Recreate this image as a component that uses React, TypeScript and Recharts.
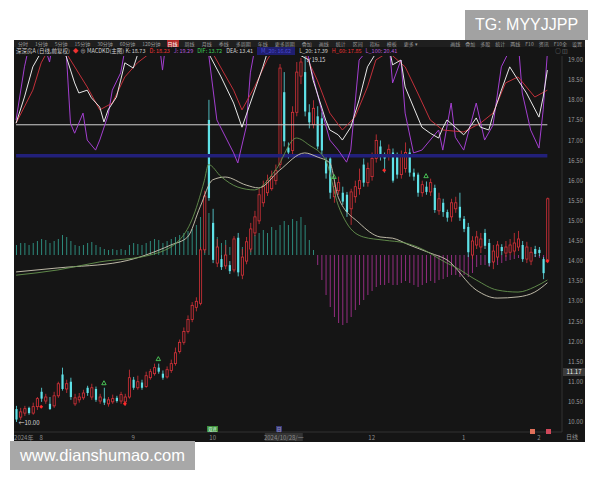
import React from "react";
import {
  ComposedChart,
  Bar,
  Line,
  XAxis,
  YAxis,
  ReferenceLine,
  ReferenceDot,
  Cell,
} from "recharts";

// daily candles [open, high, low, close], late Jul 2024 .. early Feb 2025
const candles: [number, number, number, number][] = [
  [10.32, 10.4, 10.0, 10.06], [10.12, 10.35, 10.05, 10.25], [10.22, 10.4, 10.15, 10.33], [10.35, 10.38, 10.18, 10.22],
  [10.22, 10.48, 10.18, 10.38], [10.38, 10.62, 10.3, 10.58], [10.75, 10.85, 10.5, 10.58], [10.52, 10.7, 10.45, 10.62],
  [10.45, 10.62, 10.3, 10.32], [10.4, 10.75, 10.35, 10.65], [10.65, 11.0, 10.6, 10.95], [11.18, 11.35, 10.78, 10.82],
  [10.82, 11.05, 10.72, 10.95], [11.0, 11.1, 10.55, 10.62], [10.45, 10.7, 10.4, 10.6], [10.55, 10.72, 10.48, 10.62],
  [10.6, 10.8, 10.55, 10.72], [10.85, 10.9, 10.65, 10.72], [10.62, 10.95, 10.55, 10.85], [10.82, 10.88, 10.5, 10.55],
  [10.52, 10.7, 10.45, 10.62], [10.58, 10.85, 10.42, 10.48], [10.45, 10.62, 10.38, 10.55], [10.5, 10.68, 10.45, 10.58],
  [10.6, 10.65, 10.48, 10.52], [10.52, 10.75, 10.45, 10.68], [10.5, 10.7, 10.4, 10.62], [10.62, 11.3, 10.58, 11.1],
  [11.05, 11.12, 10.8, 10.85], [10.85, 11.15, 10.8, 11.0], [10.98, 11.05, 10.8, 10.85], [10.88, 11.25, 10.85, 11.15],
  [11.1, 11.32, 11.05, 11.25], [11.2, 11.45, 11.15, 11.35], [11.35, 11.45, 11.2, 11.25], [11.2, 11.28, 11.05, 11.1],
  [11.12, 11.38, 11.08, 11.3], [11.28, 11.55, 11.22, 11.45], [11.45, 11.85, 11.4, 11.72], [11.75, 12.05, 11.7, 11.98],
  [11.98, 12.35, 11.92, 12.25], [12.25, 12.65, 12.2, 12.55], [12.55, 12.98, 12.48, 12.9], [12.85, 13.1, 12.75, 13.0],
  [12.95, 14.35, 12.9, 14.28], [14.28, 15.75, 14.2, 15.62], [17.51, 18.01, 15.5, 15.57], [14.95, 15.3, 13.95, 14.03],
  [13.95, 14.55, 13.85, 14.35], [14.05, 14.15, 13.78, 13.85], [13.88, 14.4, 13.8, 14.15], [13.9, 14.0, 13.68, 13.75],
  [13.78, 14.62, 13.72, 14.55], [14.58, 14.7, 13.62, 13.72], [13.65, 14.3, 13.55, 14.1], [14.0, 14.6, 13.92, 14.48],
  [14.3, 14.95, 14.22, 14.8], [14.7, 15.25, 14.62, 15.1], [15.0, 15.8, 14.92, 15.65], [15.45, 16.0, 15.35, 15.85],
  [15.7, 16.15, 15.62, 16.0], [15.8, 16.25, 15.75, 16.1], [16.0, 16.4, 15.9, 16.25], [16.4, 18.9, 16.3, 18.8],
  [18.2, 18.7, 16.85, 16.98], [16.82, 16.95, 16.55, 16.7], [16.75, 17.85, 16.65, 17.7], [17.7, 18.95, 17.6, 18.7],
  [18.6, 19.05, 18.4, 18.95], [18.7, 19.15, 17.6, 17.72], [17.7, 17.9, 17.3, 17.45], [17.4, 18.0, 17.3, 17.8],
  [17.6, 17.85, 16.78, 16.85], [17.55, 17.7, 16.6, 16.75], [16.5, 16.65, 16.05, 16.18], [16.55, 16.65, 15.55, 15.7],
  [15.6, 15.98, 15.45, 15.85], [15.75, 16.1, 15.65, 15.95], [15.7, 15.85, 15.4, 15.48], [15.65, 15.72, 15.1, 15.22],
  [15.3, 15.8, 14.9, 15.72], [15.6, 16.0, 15.45, 15.85], [15.8, 16.3, 15.65, 16.0], [16.4, 16.55, 15.85, 15.95],
  [15.95, 16.45, 15.85, 16.3], [16.1, 16.7, 16.0, 16.55], [16.55, 17.15, 16.45, 17.0], [16.85, 17.0, 16.5, 16.62],
  [16.62, 16.7, 16.2, 16.55], [16.6, 16.9, 16.5, 16.78], [16.7, 16.8, 15.95, 16.0], [16.6, 16.7, 16.05, 16.15],
  [16.15, 16.75, 16.05, 16.6], [16.3, 16.95, 16.2, 16.7], [16.7, 16.8, 16.1, 16.2], [16.2, 16.3, 16.0, 16.1],
  [16.15, 16.2, 15.6, 15.7], [15.7, 16.0, 15.6, 15.9], [15.85, 15.98, 15.65, 15.72], [15.72, 16.05, 15.62, 15.95],
  [15.82, 15.9, 15.2, 15.27], [15.25, 15.7, 15.15, 15.55], [15.45, 15.55, 15.1, 15.22], [15.22, 15.28, 14.98, 15.08],
  [15.1, 15.55, 14.98, 15.45], [15.3, 15.6, 15.2, 15.45], [15.35, 15.7, 15.0, 15.08], [15.05, 15.12, 14.72, 14.8],
  [14.85, 14.95, 14.1, 14.22], [14.15, 14.62, 14.05, 14.5], [14.4, 14.75, 14.3, 14.6], [14.35, 14.7, 14.2, 14.55],
  [14.7, 14.8, 14.3, 14.38], [14.45, 14.55, 13.88, 13.95], [13.98, 14.4, 13.8, 14.25], [14.1, 14.5, 14.02, 14.4],
  [14.35, 14.42, 14.15, 14.25], [14.2, 14.5, 14.1, 14.35], [14.22, 14.55, 14.15, 14.4], [14.25, 14.7, 14.15, 14.45],
  [14.35, 14.75, 14.25, 14.55], [14.4, 14.5, 13.98, 14.05], [14.05, 14.48, 13.95, 14.35], [14.0, 14.35, 13.9, 14.22],
  [14.3, 14.38, 14.1, 14.18], [14.28, 14.35, 14.12, 14.2], [14.05, 14.1, 13.55, 13.7], [14.02, 15.58, 13.95, 15.55],
];

// MACD histogram, one per candle
const macdHist = [
  0.1, 0.12, 0.12, 0.1, 0.12, 0.14, 0.16, 0.15, 0.12, 0.14, 0.16, 0.2, 0.18, 0.14, 0.1, 0.09,
  0.1, 0.12, 0.13, 0.1, 0.08, 0.06, 0.05, 0.06, 0.05, 0.06, 0.05, 0.1, 0.12, 0.11, 0.1, 0.12,
  0.14, 0.16, 0.15, 0.12, 0.14, 0.16, 0.18, 0.2, 0.22, 0.24, 0.26, 0.3, 0.38, 0.45, 0.42, 0.3,
  0.18, 0.12, 0.15, 0.08, 0.1, 0.06, 0.08, 0.1, 0.15, 0.2, 0.22, 0.25, 0.22, 0.28, 0.25, 0.3,
  0.34, 0.3, 0.36, 0.34, 0.38, 0.3, 0.15, 0.05, -0.1, -0.25, -0.4, -0.52, -0.62, -0.68, -0.7, -0.68,
  -0.62, -0.55, -0.5, -0.45, -0.4, -0.36, -0.32, -0.3, -0.3, -0.28, -0.3, -0.3, -0.28, -0.26, -0.28, -0.3,
  -0.32, -0.3, -0.28, -0.26, -0.28, -0.25, -0.24, -0.22, -0.2, -0.2, -0.22, -0.2, -0.22, -0.18, -0.12, -0.1,
  -0.1, -0.12, -0.08, -0.1, -0.08, -0.06, -0.05, -0.04, -0.03, -0.05, -0.03, -0.02, -0.02, -0.03, -0.06, 0.05,
];

// overlay indicator (MACDKD main chart), [day index, value on price scale]
const kLine: [number, number][] = [
  [0, 17.43], [2, 18.08], [4, 18.83], [6, 19.2], [9, 19.6], [12, 19.08], [14, 18.43], [15, 18.18], [17, 18.25],
  [18, 18.06], [20, 17.83], [21, 17.46], [22, 17.76], [24, 18.08], [25, 18.5], [26, 18.93], [28, 18.8], [29, 19.12],
  [32, 19.6], [45, 19.6], [46, 19.17], [49, 18.58], [52, 17.93], [54, 17.33], [56, 17.93], [59, 18.83], [60, 19.17],
  [63, 19.6], [67, 19.17], [70, 19.0], [71, 18.5], [74, 17.51], [75, 17.26], [77, 17.14], [78, 17.01], [80, 17.33],
  [82, 18.01], [84, 18.83], [86, 19.17], [89, 19.4], [90, 18.88], [92, 19.0], [93, 18.33], [95, 17.83], [97, 17.33],
  [99, 17.18], [101, 17.06], [102, 17.31], [103, 17.51], [105, 17.33], [107, 17.14], [108, 17.26], [110, 17.56],
  [111, 17.33], [113, 17.26], [114, 17.63], [116, 18.25], [118, 18.83], [120, 18.5], [122, 18.18], [125, 17.58],
  [126, 18.08], [127, 18.75],
];
const dLine: [number, number][] = [
  [0, 17.43], [4, 18.25], [6, 18.93], [9, 19.5], [12, 19.17], [17, 18.33], [20, 17.76], [23, 17.93], [26, 18.58],
  [29, 18.93], [32, 19.17], [37, 19.5], [45, 19.5], [47, 19.17], [52, 18.25], [54, 17.76], [57, 18.33], [60, 19.0],
  [63, 19.5], [69, 19.17], [72, 18.5], [75, 17.68], [78, 17.26], [81, 17.58], [84, 18.33], [86, 19.0], [89, 19.2],
  [93, 18.83], [96, 18.18], [99, 17.51], [102, 17.26], [107, 17.21], [111, 17.43], [114, 17.68], [117, 18.43],
  [120, 18.58], [124, 18.08], [127, 18.25],
];
const jLine: [number, number][] = [
  [0, 17.51], [2, 18.83], [3, 19.3], [6, 19.6], [8, 18.95], [9, 19.6], [12, 19.17], [13, 17.43], [14, 17.18],
  [16, 17.68], [17, 17.01], [19, 16.76], [20, 17.01], [22, 17.63], [23, 18.25], [25, 18.68], [26, 19.25], [28, 19.6],
  [34, 19.6], [35, 18.75], [36, 19.6], [45, 19.6], [46, 19.17], [48, 17.51], [52, 16.69], [53, 16.44], [55, 17.33],
  [56, 18.68], [57, 19.25], [60, 19.6], [69, 19.6], [70, 19.0], [73, 17.76], [75, 17.01], [77, 16.76], [79, 16.46],
  [80, 16.76], [82, 19.0], [84, 19.25], [89, 19.6], [90, 18.43], [92, 19.0], [93, 17.68], [95, 16.69], [97, 16.76],
  [101, 17.26], [102, 16.76], [104, 17.93], [105, 17.08], [107, 16.76], [110, 17.93], [112, 17.01], [114, 17.38],
  [116, 18.83], [118, 19.25], [120, 19.5], [121, 18.18], [123, 17.26], [125, 16.81], [126, 17.76], [127, 19.17],
];

// moving averages, [day index, price]
const maFast: [number, number][] = [
  [0, 13.65], [10, 13.78], [20, 13.98], [32, 14.15], [39, 14.52], [42, 15.02], [45, 16.0], [46, 16.4],
  [49, 16.1], [53, 15.84], [57, 15.77], [62, 16.26], [67, 17.06], [70, 16.89], [74, 16.51], [77, 15.39],
  [79, 14.95], [83, 14.6], [88, 14.52], [93, 14.45], [96, 14.35], [103, 13.95], [105, 13.85], [110, 13.53],
  [115, 13.28], [120, 13.23], [124, 13.36], [127, 13.53],
];
const maSlow: [number, number][] = [
  [0, 13.73], [10, 13.83], [25, 13.98], [37, 14.4], [41, 14.6], [44, 15.35], [47, 16.02], [50, 16.09],
  [55, 15.89], [58, 15.82], [63, 16.26], [69, 16.69], [72, 16.59], [75, 16.44], [77, 15.59], [82, 14.95],
  [87, 14.6], [90, 14.57], [94, 14.4], [99, 14.2], [103, 14.03], [110, 13.28], [115, 13.08], [120, 13.11],
  [124, 13.23], [127, 13.46],
];

const priceTicks = [10, 10.5, 11, 11.5, 12, 12.5, 13, 13.5, 14, 14.5, 15, 15.5, 16, 16.5, 17, 17.5, 18, 18.5, 19];
const dateTicks = [
  { idx: 0, label: "2024年" },
  { idx: 6, label: "8" },
  { idx: 28, label: "9" },
  { idx: 47, label: "10" },
  { idx: 64, label: "2024/10/28/一" },
  { idx: 85, label: "12" },
  { idx: 107, label: "1" },
  { idx: 125, label: "2" },
];
const signals = [
  { idx: 21, price: 10.95, kind: "up" },
  { idx: 34, price: 11.55, kind: "up" },
  { idx: 76, price: 16.08, kind: "up" },
  { idx: 98, price: 16.1, kind: "up" },
  { idx: 6, price: 10.38, kind: "dot" },
  { idx: 26, price: 10.45, kind: "dot" },
  { idx: 88, price: 16.26, kind: "dot" },
  { idx: 127, price: 14.0, kind: "dot" },
];

const BG = "#151515";
const UP = "#d8323a";
const DOWN = "#5fe2e8";
const SLOTS = 131;
const LAST = candles.length - 1;

const rows: any[] = Array.from({ length: SLOTS }, (_, i) => {
  const c = candles[i];
  return c
    ? { idx: i, o: c[0], h: c[1], l: c[2], c: c[3], m: macdHist[i] }
    : { idx: i, m: null };
});
const put = (pts: [number, number][], key: string) => pts.forEach(([i, v]) => (rows[i][key] = v));
put(kLine, "k");
put(dLine, "d");
put(jLine, "j");
put(maFast, "ma1");
put(maSlow, "ma2");

const highs = candles.map((c) => c[1]);
const lows = candles.map((c) => c[2]);
const hiIdx = highs.indexOf(Math.max(...highs));
const loIdx = lows.indexOf(Math.min(...lows));

function Candle(props: any) {
  const { x, y, width, height, payload, index } = props;
  if (!payload || payload.o == null) return null;
  const { o, h, l, c } = payload;
  const top = Math.min(y, y + height);
  const hh = Math.abs(height);
  const py = (v: number) => top + ((h - v) / (h - l || 1)) * hh;
  const up = c >= o;
  const col = up ? UP : DOWN;
  const cx = x + width / 2;
  const bTop = py(Math.max(o, c));
  const bH = Math.max(py(Math.min(o, c)) - bTop, 1);
  return (
    <g>
      <line x1={cx} x2={cx} y1={top} y2={top + hh} stroke={col} strokeWidth={0.8} />
      <rect
        x={x + 0.4}
        y={bTop}
        width={width - 0.8}
        height={bH}
        fill={up ? BG : col}
        stroke={col}
        strokeWidth={up ? 0.8 : 0}
      />
      {index === hiIdx && (
        <text x={cx + 1} y={top + 8} fill="#ddd" fontSize={5.5}>
          ↙{h.toFixed(2)}
        </text>
      )}
      {index === loIdx && (
        <text x={cx + 2} y={top + hh + 3} fill="#ddd" fontSize={6}>
          ←{l.toFixed(2)}
        </text>
      )}
    </g>
  );
}

function DateTick(props: any) {
  const { x, y, payload } = props;
  const t = dateTicks.find((d) => d.idx === payload.value);
  if (!t) return null;
  const boxed = t.label.includes("/");
  return (
    <g>
      {boxed && <rect x={x - 19} y={y + 1} width={38} height={8} fill="#333" />}
      <text
        x={t.idx === 0 ? x - 2 : x}
        y={y + 7.5}
        fill="#8c8c8c"
        fontSize={6}
        textAnchor={t.idx === 0 ? "start" : "middle"}
      >
        {t.label}
      </text>
    </g>
  );
}

function Signal(props: any) {
  const { cx, cy, kind } = props;
  if (kind === "up") {
    return <path d={`M${cx},${cy - 3} L${cx + 2.2},${cy + 1} L${cx - 2.2},${cy + 1} Z`} fill="none" stroke="#4ccf5a" strokeWidth={0.9} />;
  }
  return <path d={`M${cx},${cy - 2} L${cx + 2},${cy} L${cx},${cy + 2} L${cx - 2},${cy} Z`} fill="#ff2a2a" />;
}

const menuLeft = ["分时", "1分钟", "5分钟", "15分钟", "30分钟", "60分钟", "120分钟", "日线", "周线", "月线", "季线", "多周期", "年线", "更多周期", "叠加", "画线", "统计", "区间", "指标", "模板", "更多 ▾"];
const menuRight = ["画线", "叠加", "多股", "统计", "两线", "F10", "资讯", "F10全", "设置"];

const cjk = "'Noto Sans CJK SC', 'Noto Sans', sans-serif";

export default function App() {
  return (
    <div style={{ position: "absolute", left: 0, top: 0, width: 600, height: 480, background: "#fff", overflow: "hidden", fontFamily: cjk }}>
      {/* dark panel */}
      <div style={{ position: "absolute", left: 14, top: 40, width: 571, height: 402, background: BG }} />
      {/* menu row */}
      <div style={{ position: "absolute", left: 14, top: 40, width: 571, height: 7, background: "#1f1f1f", fontSize: 5, lineHeight: "7px", color: "#9a9a9a", whiteSpace: "nowrap" }}>
        <span style={{ marginLeft: 3 }}>
          {menuLeft.map((m) => (
            <span key={m} style={{ marginRight: 5, color: m === "日线" ? "#fff" : undefined, background: m === "日线" ? "#b02a2a" : undefined, padding: "0 1px" }}>
              {m}
            </span>
          ))}
        </span>
        <span style={{ position: "absolute", right: 3, top: 0 }}>
          {menuRight.map((m) => (
            <span key={m} style={{ marginLeft: 5 }}>{m}</span>
          ))}
        </span>
      </div>
      {/* legend row */}
      <div style={{ position: "absolute", left: 16, top: 47, width: 560, height: 8, fontSize: 5.5, lineHeight: "8px", color: "#cfcfcf", whiteSpace: "nowrap" }}>
        <span>深深房A (日线,前复权)</span>
        <span style={{ color: "#e33", marginLeft: 3 }}>◆</span>
        <span style={{ marginLeft: 2 }}>⊕ MACDKD(主图) K: 18.73</span>
        <span style={{ color: "#e33", marginLeft: 4 }}>D: 18.23</span>
        <span style={{ color: "#b25ad8", marginLeft: 4 }}>J: 19.29</span>
        <span style={{ color: "#3fcf5a", marginLeft: 4 }}>DIF: 13.72</span>
        <span style={{ marginLeft: 4 }}>DEA: 13.41</span>
        <span style={{ background: "#1f1e70", color: "#4a4ad0", marginLeft: 4, padding: "0 4px" }}>M_20: 16.62</span>
        <span style={{ marginLeft: 4 }}>L_20: 17.39</span>
        <span style={{ color: "#e33", marginLeft: 4 }}>H_60: 17.85</span>
        <span style={{ color: "#b25ad8", marginLeft: 4 }}>L_100: 20.41</span>
        <span style={{ position: "absolute", right: 8, color: "#888" }}>○ ◫</span>
      </div>

      <div style={{ position: "absolute", left: 14, top: 56 }}>
        <ComposedChart width={571} height={386} data={rows} margin={{ top: 0, right: 0, bottom: 0, left: 0 }}>
          <XAxis
            xAxisId="a"
            dataKey="idx"
            type="category"
            ticks={dateTicks.map((d) => d.idx)}
            interval={0}
            tick={<DateTick />}
            tickLine={false}
            tickSize={0}
            tickMargin={0}
            height={10}
            axisLine={{ stroke: "#333" }}
          />
          <XAxis xAxisId="b" dataKey="idx" type="category" hide />
          <YAxis
            yAxisId="p"
            orientation="right"
            width={23}
            domain={[9.75, 19.1]}
            ticks={priceTicks}
            allowDataOverflow
            tickFormatter={(v: number) => v.toFixed(2)}
            tick={{ fill: "#9a9a9a", fontSize: 6 }}
            tickLine={false}
            tickSize={4}
            axisLine={{ stroke: "#333" }}
          />
          <YAxis yAxisId="m" hide domain={[-1.77, 1.99]} allowDataOverflow />

          <ReferenceLine
            xAxisId="a"
            yAxisId="p"
            segment={[{ x: 0, y: 16.62 }, { x: LAST, y: 16.62 }]}
            stroke="#22207a"
            strokeWidth={3.5}
          />
          <ReferenceLine
            xAxisId="a"
            yAxisId="p"
            segment={[{ x: 0, y: 17.39 }, { x: LAST, y: 17.39 }]}
            stroke="#d0d0d0"
            strokeWidth={1}
          />

          <Bar xAxisId="b" yAxisId="m" dataKey="m" barSize={1} isAnimationActive={false}>
            {rows.map((r, i) => (
              <Cell key={i} fill={r.m >= 0 ? "#2d8a7c" : "#932d80"} />
            ))}
          </Bar>

          <Line xAxisId="a" yAxisId="p" dataKey="ma2" type="monotone" stroke="#cfc9b6" strokeWidth={0.9} dot={false} connectNulls isAnimationActive={false} />
          <Line xAxisId="a" yAxisId="p" dataKey="ma1" type="monotone" stroke="#66944f" strokeWidth={0.9} dot={false} connectNulls isAnimationActive={false} />

          <Bar
            xAxisId="a"
            yAxisId="p"
            dataKey={(d: any) => (d.o == null ? null : [d.l, d.h])}
            barSize={3}
            shape={<Candle />}
            isAnimationActive={false}
          />

          <Line xAxisId="a" yAxisId="p" dataKey="j" type="linear" stroke="#a33fd0" strokeWidth={1} dot={false} connectNulls isAnimationActive={false} />
          <Line xAxisId="a" yAxisId="p" dataKey="d" type="linear" stroke="#c2303a" strokeWidth={1} dot={false} connectNulls isAnimationActive={false} />
          <Line xAxisId="a" yAxisId="p" dataKey="k" type="linear" stroke="#e8e8e8" strokeWidth={1} dot={false} connectNulls isAnimationActive={false} />

          {signals.map((s) => (
            <ReferenceDot
              key={`${s.idx}-${s.kind}`}
              xAxisId="a"
              yAxisId="p"
              x={s.idx}
              y={s.price}
              r={2}
              ifOverflow="visible"
              shape={(p: any) => <Signal {...p} kind={s.kind} />}
            />
          ))}
        </ComposedChart>
      </div>

      {/* crosshair price box and period tag on right axis */}
      <div style={{ position: "absolute", left: 563, top: 368, width: 22, height: 8, background: "#3b3b3b", color: "#eee", fontSize: 6, lineHeight: "8px", textAlign: "center" }}>11.17</div>
      <div style={{ position: "absolute", left: 566, top: 433, fontSize: 6, lineHeight: "8px", color: "#9a9a9a" }}>日线</div>
      {/* event tags on the time axis */}
      <div style={{ position: "absolute", left: 207, top: 426, width: 11, height: 6, background: "#3f8f3a", color: "#dfe", fontSize: 4.5, lineHeight: "6px", textAlign: "center" }}>双底</div>
      <div style={{ position: "absolute", left: 276, top: 426, width: 6, height: 6, background: "#3a3a7a", color: "#ccd", fontSize: 4.5, lineHeight: "6px", textAlign: "center" }}>日</div>
      <div style={{ position: "absolute", left: 530, top: 429, width: 5, height: 5, background: "#e0705a" }} />
      <div style={{ position: "absolute", left: 546, top: 429, width: 5, height: 5, background: "#d0485a" }} />

      {/* watermark boxes */}
      <div style={{ position: "absolute", left: 465, top: 10, width: 123, height: 30, background: "#a2a2a2", color: "#fff", fontFamily: "'Liberation Sans', Arial, sans-serif", fontSize: 16, lineHeight: "30px", textAlign: "center" }}>
        TG: MYYJJPP
      </div>
      <div style={{ position: "absolute", left: 10, top: 441, width: 185, height: 29, background: "#a8a8a8", color: "#fff", fontFamily: "'Liberation Sans', Arial, sans-serif", fontSize: 16.5, lineHeight: "29px", textAlign: "center" }}>
        www.dianshumao.com
      </div>
    </div>
  );
}
